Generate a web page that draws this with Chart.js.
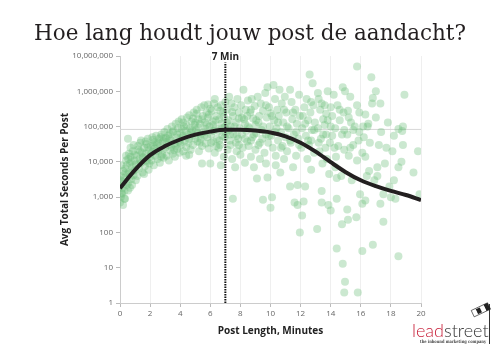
<!DOCTYPE html>
<html>
<head>
<meta charset="utf-8">
<title>Hoe lang houdt jouw post de aandacht?</title>
<script src="https://cdn.jsdelivr.net/npm/chart.js@4.4.1/dist/chart.umd.min.js"></script>
<style>
  html, body { margin: 0; padding: 0; background: #fff; }
  #wrap { width: 500px; height: 350px; }
</style>
</head>
<body>
<div id="wrap"><canvas id="grafiek" width="500" height="350"></canvas></div>
<script>
const chartTitle = 'Hoe lang houdt jouw post de aandacht?';
const xAxisTitle = 'Post Length, Minutes';
const yAxisTitle = 'Avg Total Seconds Per Post';
const xTickValues = [0, 2, 4, 6, 8, 10, 12, 14, 16, 18, 20];
const yTickValues = [1, 10, 100, 1000, 10000, 100000, 1000000, 10000000];
const markerMinutes = 7;
const markerLabel = '7 Min';
const referenceSeconds = 83000;

const trendMinutes = [0, 1, 2, 3, 4, 5, 6, 7, 8, 9, 10, 11, 12, 13, 14, 15, 16, 17, 18, 19, 20];
const trendSeconds = [1800, 5900, 15500, 28000, 43000, 59000, 72000, 81000, 81000, 77000, 68000, 53000, 35000, 19500, 9800, 5100, 3000, 2050, 1500, 1150, 830];

// losse posts [minuten, seconden]
const posts = [
  [0.0, 700], [0.05, 1000], [0.1, 1300], [0.0, 2000], [0.15, 2800], [0.05, 4000], [0.2, 5500], [0.1, 8000],
  [0.3, 1500], [0.25, 3500], [0.35, 6500], [0.4, 11000], [0.3, 900], [0.45, 2200], [0.2, 600], [0.4, 15000],
  [0.5, 4500], [0.1, 3000], [0.33, 900], [0.53, 1550], [0.66, 1850], [0.13, 1250],
  [0.15, 1800], [0.25, 2400], [0.35, 4800], [0.45, 8000], [0.55, 12000], [0.65, 3800], [0.75, 10000], [0.85, 5500],
  [0.55, 2500], [0.6, 5000], [0.65, 9000], [0.7, 14000], [0.75, 3200], [0.8, 7000], [0.85, 20000], [0.9, 4200],
  [0.95, 11000], [0.6, 17000], [0.53, 45000], [0.7, 25000], [0.9, 30000], [1.0, 6000], [0.8, 2200], [0.95, 16000],
  [1.05, 8500], [1.1, 15000], [1.15, 4000], [1.2, 22000], [1.25, 6500], [1.3, 12000], [1.35, 35000], [1.4, 9500],
  [1.45, 18000], [1.5, 5000], [1.2, 28000], [1.4, 40000], [1.05, 3000], [1.25, 9000], [1.35, 20000], [1.5, 14000],
  [1.55, 13000], [1.6, 25000], [1.65, 7500], [1.7, 17000], [1.75, 32000], [1.8, 10000], [1.85, 45000], [1.9, 21000],
  [1.95, 9000], [2.0, 14000], [1.7, 38000], [1.9, 6000], [1.6, 4500], [1.75, 11000], [1.85, 26000],
  [2.05, 28000], [2.1, 11000], [2.15, 19000], [2.2, 42000], [2.25, 8000], [2.3, 24000], [2.35, 15000], [2.4, 55000],
  [2.45, 32000], [2.5, 12000], [2.3, 36000], [2.15, 50000], [2.05, 17000], [2.2, 30000], [2.4, 20000],
  [2.55, 20000], [2.6, 45000], [2.65, 9500], [2.7, 28000], [2.75, 60000], [2.8, 16000], [2.85, 38000], [2.9, 13000],
  [2.95, 70000], [3.0, 25000], [2.7, 50000], [2.85, 22000], [2.55, 35000], [2.75, 14000], [2.9, 45000],
  [3.05, 48000], [3.1, 15000], [3.15, 85000], [3.2, 30000], [3.25, 11000], [3.3, 62000], [3.35, 21000], [3.4, 40000],
  [3.45, 100000], [3.5, 17000], [3.2, 55000], [3.4, 27000], [3.1, 36000], [3.3, 45000], [3.5, 70000],
  [3.55, 75000], [3.6, 33000], [3.65, 14000], [3.7, 120000], [3.75, 48000], [3.8, 23000], [3.85, 90000], [3.9, 38000],
  [3.95, 18000], [4.0, 65000], [3.7, 28000], [3.9, 140000], [3.6, 22000], [3.8, 60000], [4.0, 35000],
  [4.05, 30000], [4.1, 160000], [4.15, 50000], [4.2, 20000], [4.25, 100000], [4.3, 40000], [4.35, 75000], [4.4, 15000],
  [4.45, 180000], [4.5, 60000], [4.2, 130000], [4.4, 26000], [4.1, 85000], [4.2, 55000], [4.4, 110000],
  [4.55, 35000], [4.6, 210000], [4.65, 90000], [4.7, 22000], [4.75, 140000], [4.8, 55000], [4.85, 30000], [4.9, 250000],
  [4.95, 110000], [5.0, 45000], [4.7, 70000], [4.85, 170000], [4.6, 16000], [4.6, 45000], [4.8, 80000], [5.0, 130000],
  [5.05, 80000], [5.1, 300000], [5.15, 38000], [5.2, 160000], [5.25, 20000], [5.3, 120000], [5.35, 60000], [5.4, 350000],
  [5.45, 9000], [5.45, 28000], [5.5, 200000], [5.2, 95000], [5.35, 45000], [5.1, 230000], [5.15, 65000], [5.3, 35000],
  [5.45, 160000],
  [5.55, 70000], [5.6, 400000], [5.65, 130000], [5.7, 33000], [5.75, 250000], [5.8, 50000], [5.85, 180000], [5.9, 24000],
  [5.95, 100000], [6.0, 9000], [6.0, 320000], [5.7, 85000], [5.85, 420000], [5.6, 55000], [5.75, 110000], [5.9, 220000],
  [6.05, 60000], [6.1, 280000], [6.15, 140000], [6.2, 38000], [6.25, 450000], [6.3, 18000], [6.35, 90000], [6.4, 200000],
  [6.45, 45000], [6.5, 350000], [6.2, 110000], [6.4, 28000], [6.3, 600000], [6.05, 35000], [6.2, 75000], [6.35, 150000],
  [6.55, 75000], [6.6, 160000], [6.65, 30000], [6.7, 400000], [6.75, 120000], [6.8, 55000], [6.85, 250000], [6.9, 14000],
  [6.95, 95000], [7.0, 500000], [6.6, 40000], [6.9, 190000], [6.7, 8000], [6.55, 25000], [6.65, 280000], [6.8, 90000],
  [6.95, 50000],
  [7.05, 65000], [7.1, 300000], [7.15, 22000], [7.2, 150000], [7.25, 700000], [7.3, 40000], [7.35, 100000], [7.4, 450000],
  [7.45, 12000], [7.5, 900], [7.5, 200000], [7.2, 80000], [7.35, 30000], [7.1, 130000], [7.3, 60000], [7.45, 260000],
  [7.55, 60000], [7.6, 350000], [7.65, 7000], [7.7, 130000], [7.75, 20000], [7.8, 600000], [7.85, 45000], [7.9, 250000],
  [7.95, 90000], [8.0, 16000], [7.7, 35000], [7.9, 170000], [7.6, 100000], [7.75, 55000], [7.9, 30000],
  [8.05, 400000], [8.1, 60000], [8.2, 1100000], [8.15, 25000], [8.25, 160000], [8.3, 9500], [8.35, 300000], [8.4, 75000],
  [8.45, 38000], [8.5, 550000], [8.3, 120000], [8.45, 200000], [8.1, 180000], [8.3, 45000], [8.5, 100000],
  [8.55, 28000], [8.6, 90000], [8.65, 250000], [8.7, 14000], [8.75, 600000], [8.8, 50000], [8.85, 170000], [8.9, 7000],
  [8.95, 380000], [9.0, 110000], [8.7, 40000], [9.0, 22000], [8.7, 300000], [8.9, 60000],
  [9.1, 3400], [9.05, 65000], [9.15, 700000], [9.2, 30000], [9.25, 200000], [9.3, 12000], [9.35, 450000], [9.4, 80000],
  [9.45, 45000], [9.5, 850], [9.5, 280000], [9.2, 130000], [9.05, 150000], [9.3, 35000], [9.5, 100000],
  [9.6, 18000], [9.65, 900000], [9.7, 60000], [9.75, 180000], [9.8, 3600], [9.8, 1300000], [9.85, 35000], [9.9, 350000],
  [9.95, 100000], [10.0, 500], [9.7, 9000], [10.0, 240000], [9.7, 400000], [9.9, 55000],
  [10.05, 55000], [10.1, 1000], [10.2, 1500000], [10.15, 25000], [10.25, 150000], [10.3, 600000], [10.35, 8000], [10.4, 90000],
  [10.45, 300000], [10.5, 40000], [10.35, 15000], [10.1, 200000], [10.3, 70000], [10.5, 130000],
  [10.6, 1100000], [10.55, 200000], [10.65, 5000], [10.7, 70000], [10.75, 450000], [10.8, 28000], [10.85, 130000], [10.9, 12000],
  [10.95, 700000], [11.0, 50000], [10.7, 25000], [10.9, 300000],
  [11.05, 250000], [11.1, 20000], [11.2, 90000], [11.3, 1100000], [11.3, 2000], [11.35, 35000], [11.4, 500000], [11.45, 160000],
  [11.5, 7000], [11.1, 100000], [11.3, 40000], [11.5, 250000],
  [11.6, 700], [11.55, 60000], [11.65, 300000], [11.7, 15000], [11.8, 600], [11.8, 2200], [11.75, 120000], [11.85, 45000],
  [11.9, 800000], [11.95, 100], [11.95, 200000], [11.7, 70000], [11.9, 30000],
  [12.1, 300], [12.05, 25000], [12.1, 90000], [12.2, 750], [12.25, 350000], [12.3, 2000], [12.35, 55000], [12.4, 600000],
  [12.45, 12000], [12.5, 150000], [12.15, 200000], [12.3, 120000], [12.5, 40000],
  [12.6, 3000000], [12.8, 1700000], [12.55, 30000], [12.65, 250000], [12.7, 6000], [12.75, 80000], [12.85, 400000], [12.9, 18000],
  [12.95, 130000], [12.7, 40000], [12.7, 500000], [12.9, 80000],
  [13.1, 125], [13.15, 900000], [13.2, 600000], [13.15, 90000], [13.25, 20000], [13.3, 300000], [13.35, 45000], [13.4, 450000],
  [13.4, 700], [13.45, 9000], [13.5, 160000], [13.4, 1500], [13.2, 35000], [13.5, 60000],
  [13.6, 400000], [13.6, 110000], [13.65, 25000], [13.7, 60000], [13.8, 1000000], [13.8, 150000], [13.85, 600], [13.9, 4500],
  [13.95, 35000], [14.0, 420], [14.0, 350000], [13.75, 12000], [13.7, 230000], [14.0, 100000],
  [14.1, 200000], [14.1, 55000], [14.2, 800000], [14.3, 90000], [14.35, 14000], [14.4, 35], [14.4, 900], [14.4, 3500],
  [14.45, 400000], [14.5, 28000], [14.3, 7000], [14.25, 25000],
  [14.6, 150000], [14.75, 170], [14.75, 60000], [14.8, 13], [14.8, 1300000], [14.9, 2], [14.85, 250000], [14.95, 4],
  [14.9, 22000], [14.95, 1000000], [14.7, 4000], [14.6, 300000], [14.9, 80000],
  [15.1, 450], [15.15, 230], [15.15, 280000], [15.1, 60000], [15.2, 15000], [15.3, 700000], [15.3, 25000], [15.35, 130000],
  [15.4, 3000], [15.5, 80000], [15.2, 180000], [15.5, 30000],
  [15.6, 100000], [15.7, 270], [15.75, 5000000], [15.75, 400000], [15.75, 11000], [15.8, 2], [15.85, 40000], [15.9, 70000],
  [15.95, 1200], [15.9, 250000],
  [16.1, 30], [16.1, 650], [16.1, 18000], [16.15, 100000], [16.3, 800], [16.3, 220000], [16.3, 14000], [16.4, 4000],
  [16.45, 100000], [16.2, 50000],
  [16.7, 2500000], [16.8, 45], [16.75, 450000], [16.8, 650000], [16.5, 120000], [16.55, 5500], [16.9, 3000], [17.0, 1000000],
  [17.0, 180000], [16.6, 35000],
  [17.1, 7000], [17.1, 4000], [17.2, 30000], [17.3, 450000], [17.3, 650], [17.5, 200], [17.5, 1200], [17.35, 70000],
  [17.7, 25000], [17.8, 130000], [17.9, 2000], [18.0, 1000], [17.6, 9000],
  [18.1, 20000], [18.2, 3000], [18.2, 55000], [18.5, 21], [18.5, 85000], [18.5, 7000], [18.3, 900],
  [18.7, 10000], [18.8, 30000], [18.8, 100000], [18.9, 800000], [18.75, 75000],
  [19.8, 20000], [19.9, 1200], [19.5, 5000]
];

const tickFont = { family: '"Open Sans", sans-serif', size: 8 };
const titleFont = { family: '"Open Sans", sans-serif', size: 10, weight: 'bold' };

const decorPlugin = {
  id: 'decor',
  afterDraw(chart) {
    const ctx = chart.ctx;
    const area = chart.chartArea;
    ctx.save();

    // hoofdtitel
    ctx.fillStyle = '#231f20';
    ctx.font = '21.5px "DejaVu Serif", serif';
    ctx.textAlign = 'center';
    ctx.textBaseline = 'alphabetic';
    ctx.fillText(chartTitle, 250, 40, 432);

    // label bij de 7 minuten lijn
    const mx = chart.scales.x.getPixelForValue(markerMinutes);
    ctx.fillStyle = '#222';
    ctx.font = 'bold 10px "Open Sans", sans-serif';
    ctx.textBaseline = 'middle';
    ctx.fillText(markerLabel, mx, area.top + 1);

    // logo
    ctx.textAlign = 'left';
    ctx.textBaseline = 'alphabetic';
    ctx.font = '300 18px Lato, sans-serif';
    ctx.fillStyle = '#c8203a';
    ctx.fillText('lead', 412, 337);
    const w = ctx.measureText('lead').width;
    ctx.fillStyle = '#333';
    ctx.fillText('street', 412 + w, 337);
    ctx.font = 'bold 4.5px "DejaVu Serif", serif';
    ctx.fillStyle = '#444';
    ctx.textAlign = 'right';
    ctx.fillText('the inbound marketing company', 486, 343, 66);

    ctx.strokeStyle = '#333';
    ctx.lineWidth = 1;
    ctx.beginPath();
    ctx.moveTo(489.5, 304);
    ctx.lineTo(489.5, 344);
    ctx.stroke();
    // windzak
    ctx.translate(489, 306);
    ctx.rotate(Math.PI * 0.86);
    for (let i = 0; i < 4; i++) {
      ctx.fillStyle = i % 2 === 0 ? '#222' : '#fff';
      ctx.fillRect(i * 4.5, -3.5 + i * 0.4, 4.5, 7 - i * 0.8);
    }
    ctx.strokeStyle = '#222';
    ctx.lineWidth = 0.6;
    ctx.strokeRect(0, -3.5, 18, 7);
    ctx.restore();
  }
};

new Chart(document.getElementById('grafiek'), {
  type: 'scatter',
  data: {
    datasets: [
      {
        label: 'Trend',
        data: trendMinutes.map((m, i) => ({ x: m, y: trendSeconds[i] })),
        showLine: true,
        borderColor: '#231f20',
        borderWidth: 4,
        pointRadius: 0,
        cubicInterpolationMode: 'monotone',
        borderCapStyle: 'butt'
      },
      {
        label: markerLabel,
        data: [{ x: markerMinutes, y: 1 }, { x: markerMinutes, y: 6500000 }],
        showLine: true,
        borderColor: '#111',
        borderWidth: 2,
        borderDash: [1.5, 1],
        pointRadius: 0
      },
      {
        label: 'Posts',
        data: posts.map(p => ({ x: p[0], y: p[1] })),
        backgroundColor: 'rgba(110, 190, 125, 0.36)',
        borderWidth: 0,
        pointRadius: 4,
        pointHoverRadius: 4
      },
      {
        label: 'Referentie',
        data: [{ x: 0, y: referenceSeconds }, { x: 20, y: referenceSeconds }],
        showLine: true,
        borderColor: '#d8d8d8',
        borderWidth: 1,
        pointRadius: 0
      }
    ]
  },
  options: {
    responsive: false,
    animation: false,
    layout: { padding: { top: 56, right: 79, bottom: 0, left: 0 } },
    plugins: {
      legend: { display: false },
      tooltip: { enabled: false }
    },
    scales: {
      x: {
        type: 'linear',
        min: 0,
        max: 20,
        afterBuildTicks: scale => { scale.ticks = xTickValues.map(v => ({ value: v })); },
        afterFit: scale => { scale.height = 47; },
        ticks: { font: tickFont, color: '#666', padding: 2, autoSkip: false, maxRotation: 0 },
        grid: { color: '#efefef', tickColor: '#bbb', tickLength: 4 },
        border: { color: '#ccc' },
        title: { display: true, text: xAxisTitle, font: titleFont, color: '#222', padding: { top: 0, bottom: 13 } }
      },
      y: {
        type: 'logarithmic',
        min: 1,
        max: 10000000,
        afterBuildTicks: scale => { scale.ticks = yTickValues.map(v => ({ value: v })); },
        afterFit: scale => { scale.width = 120; },
        ticks: {
          font: tickFont,
          color: '#666',
          padding: 3,
          autoSkip: false,
          callback: v => Number(v).toLocaleString('en-US')
        },
        grid: { drawOnChartArea: false, color: '#bbb', tickLength: 4 },
        border: { color: '#ccc' },
        title: { display: true, text: yAxisTitle, font: titleFont, color: '#222', padding: { top: 59, bottom: 0 } }
      }
    }
  },
  plugins: [decorPlugin]
});
</script>
</body>
</html>
